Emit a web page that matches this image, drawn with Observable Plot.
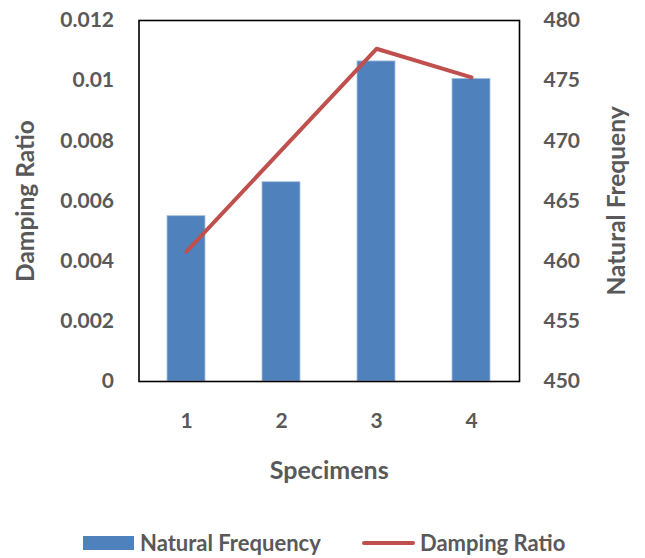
<!DOCTYPE html>
<html>
<head>
<meta charset="utf-8">
<script src="https://cdn.jsdelivr.net/npm/d3@7"></script>
<script src="https://cdn.jsdelivr.net/npm/@observablehq/plot@0.6"></script>
<style>
  html, body { margin: 0; padding: 0; background: #fff; }
  #wrap { position: relative; width: 645px; height: 558px; font-family: Lato, "Open Sans", sans-serif; }
  #legend { position: absolute; left: 0; top: 531px; width: 645px; height: 24px; font-weight: 700; font-size: 22px; color: #595959; }
  .sw { position: absolute; }
  .lt { position: absolute; top: 0; line-height: 24px; white-space: nowrap; }
</style>
</head>
<body>
<div id="wrap">
  <div id="chart"></div>
  <div id="legend">
    <div class="sw" style="left:83px; top:5px; width:51px; height:14px; background:#4F81BD;"></div>
    <div class="lt" style="left:140px;">Natural Frequency</div>
    <div class="sw" style="left:362px; top:10px; width:53px; height:4px; border-radius:2px; background:#C0504D;"></div>
    <div class="lt" style="left:420px;">Damping Ratio</div>
  </div>
</div>
<script>
const specimens = ["1", "2", "3", "4"];
const naturalFrequency = [463.74, 466.56, 476.6, 475.15];
const dampingRatio = [0.00432, 0.00769, 0.01106, 0.01011];
const leftTicks = [0, 0.002, 0.004, 0.006, 0.008, 0.01, 0.012];
const rightTicks = [450, 455, 460, 465, 470, 475, 480];

const leftMax = 0.012;
const rightMin = 450, rightMax = 480;
const toLeft = v => (v - rightMin) / (rightMax - rightMin) * leftMax;

const barData = specimens.map((s, i) => ({s, v: toLeft(naturalFrequency[i])}));
const lineData = specimens.map((s, i) => ({s, v: dampingRatio[i]}));

const textColor = "#595959";
const font = "Lato, 'Open Sans', sans-serif";

const chart = Plot.plot({
  width: 645,
  height: 558,
  marginTop: 20,
  marginBottom: 177,
  marginLeft: 138.5,
  marginRight: 126,
  style: {fontFamily: font, fontWeight: 700, fontSize: "21px", color: textColor, background: "#fff"},
  x: {type: "band", domain: specimens, paddingInner: 0.6, paddingOuter: 0.3, axis: null},
  y: {domain: [0, leftMax], axis: null},
  marks: [
    Plot.barY(barData, {x: "s", y: "v", fill: "#4F81BD", stroke: "#A9C0DF", strokeWidth: 0.8}),
    Plot.line(lineData, {x: "s", y: "v", stroke: "#C0504D", strokeWidth: 4, strokeLinecap: "round", strokeLinejoin: "round"}),
    Plot.frame({stroke: "#000", strokeWidth: 1.6}),
    Plot.axisX({tickSize: 0, tickPadding: 32, fill: textColor, fontSize: "21px", label: null}),
    Plot.axisY({ticks: leftTicks, tickSize: 0, tickPadding: 25, fill: textColor, fontSize: "21px",
      tickFormat: d => String(Math.round(d * 1000) / 1000), label: null}),
    Plot.axisY({anchor: "right", ticks: rightTicks.map(toLeft), tickSize: 0, tickPadding: 24, fill: textColor, fontSize: "21px",
      tickFormat: (d, i) => String(rightTicks[i]), label: null}),
    Plot.text(["Damping Ratio"], {frameAnchor: "left", dx: -113, rotate: -90, textAnchor: "middle", fill: textColor, fontSize: 24.5, fontWeight: 700}),
    Plot.text(["Natural Frequeny"], {frameAnchor: "right", dx: 98, rotate: -90, textAnchor: "middle", fill: textColor, fontSize: 24.5, fontWeight: 700}),
    Plot.text(["Specimens"], {frameAnchor: "bottom", dy: 97, fill: textColor, fontSize: 25, fontWeight: 700})
  ]
});
document.getElementById("chart").appendChild(chart);
</script>
</body>
</html>
